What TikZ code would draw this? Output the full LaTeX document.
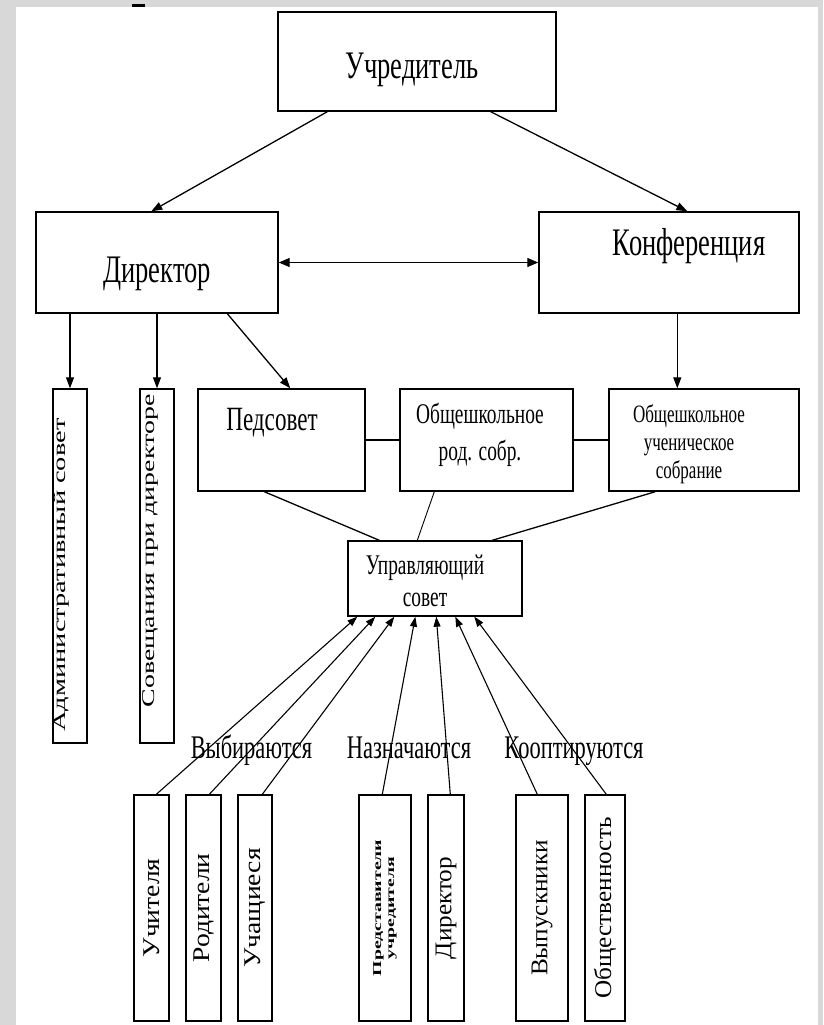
\documentclass[tikz,border=0pt]{standalone}
\usepackage{fontspec}
\usepackage{graphicx}
\setmainfont{Liberation Serif}
\newfontfamily\fc[FakeStretch=0.68]{Liberation Serif}
\newcommand\setfs[2]{\fontsize{#1}{#2}\selectfont}
\usetikzlibrary{arrows.meta}
\definecolor{bgc}{RGB}{216,216,216}
\begin{document}
\begin{tikzpicture}[x=1pt,y=-1pt,
  box/.style={draw, line width=1.4pt, inner sep=0pt, fill=white},
  ln/.style={line width=1.3pt},
  arr/.style={ln, -{Triangle[length=11pt,width=8pt]}},
  arrs/.style={line width=1.1pt, -{Triangle[length=10pt,width=7pt]}},
  big/.style={font={\fc\setfs{39}{44}}},
  grp/.style={font={\fc\setfs{33}{38}}, anchor=base},
]
\useasboundingbox (0,0) rectangle (823,1025);
\fill[bgc] (0,0) rectangle (823,1025);
\fill[white] (16,7) rectangle (818,1025);
\fill[black] (132,4) rectangle (145,7);

% boxes
\node[box, minimum width=278pt, minimum height=99pt] (uch) at (417,61.5) {};
\node[box, minimum width=242pt, minimum height=101pt] (dir) at (157,262.5) {};
\node[box, minimum width=260pt, minimum height=101pt] (konf) at (669,262.5) {};
\node[box, minimum width=34pt, minimum height=354pt] (adm) at (70,566) {};
\node[box, minimum width=34pt, minimum height=354pt] (sov) at (157,566) {};
\node[box, minimum width=167pt, minimum height=102pt] (ped) at (281.5,440) {};
\node[box, minimum width=173pt, minimum height=102pt] (rod) at (486.5,440) {};
\node[box, minimum width=190pt, minimum height=102pt] (uchsob) at (704,440) {};
\node[box, minimum width=174pt, minimum height=75pt] (upr) at (435,578.5) {};

\node[box, minimum width=35pt, minimum height=226pt] (b1) at (151.5,908)
  {\rotatebox{90}{\setfs{24}{26}\scalebox{1.15}[1]{Учителя}}};
\node[box, minimum width=35pt, minimum height=226pt] (b2) at (203.5,908)
  {\rotatebox{90}{\setfs{24}{26}\scalebox{1.15}[1]{Родители}}};
\node[box, minimum width=34pt, minimum height=226pt] (b3) at (255,908)
  {\rotatebox{90}{\setfs{24}{26}\scalebox{1.15}[1]{Учащиеся}}};
\node[box, minimum width=52pt, minimum height=226pt] (b4) at (385,908)
  {\rotatebox{90}{\scalebox{1.65}[1]{\setfs{12}{13}\bfseries\begin{tabular}{@{}c@{}}Представители\\учредителя\end{tabular}}}};
\node[box, minimum width=36pt, minimum height=226pt] (b5) at (446,908)
  {\rotatebox{90}{\setfs{24}{26}\scalebox{1.05}[1]{Директор}}};
\node[box, minimum width=52pt, minimum height=226pt] (b6) at (542,908)
  {\rotatebox{90}{\setfs{24}{26}\scalebox{1.05}[1]{Выпускники}}};
\node[box, minimum width=40pt, minimum height=226pt] (b7) at (605,908)
  {\rotatebox{90}{\setfs{24}{26}\scalebox{1.05}[1]{Общественность}}};

% texts
\node[big, anchor=base] (uch-t) at (412,78) {Учредитель};
\node[big, anchor=base] (dir-t) at (157,282) {Директор};
\node[big, anchor=base] (konf-t) at (689,255) {Конференция};
\node[font={\fc\setfs{34}{40}}, anchor=base] (ped-t) at (272,430) {Педсовет};
\node[font={\fc\setfs{28.5}{37}}, align=center] (rod-t) at (480,435) {Общешкольное\\род. собр.};
\node[font={\fc\setfs{25}{28}}, align=center] (uchsob-t) at (689,444) {Общешкольное\\ученическое\\собрание};
\node[font={\fc\setfs{28.5}{32}}, align=center] (upr-t) at (425,581) {Управляющий\\совет};
\node (adm-t) at (61,575) {\rotatebox{90}{\setfs{18}{20}\scalebox{1.58}[1]{Административный совет}}};
\node (sov-t) at (150,551) {\rotatebox{90}{\setfs{18}{20}\scalebox{1.55}[1]{Совещания при директоре}}};

% connectors
\draw[arr] ([xshift=50pt]uch.south west) -- ([xshift=116pt]dir.north west);
\draw[arr] ([xshift=-66pt]uch.south east) -- ([xshift=149pt]konf.north west);
\draw[ln, {Triangle[length=11pt,width=9pt]}-{Triangle[length=11pt,width=9pt]}] (dir.east) -- (konf.west);
\draw[arr] (adm.north |- dir.south) -- (adm.north);
\draw[arr] (sov.north |- dir.south) -- (sov.north);
\draw[arr] ([xshift=192pt]dir.south west) -- ([xshift=93pt]ped.north west);
\draw[arr] ([xshift=139pt]konf.south west) -- ([xshift=69pt]uchsob.north west);
\draw[ln] (ped.east) -- (rod.west);
\draw[ln] (rod.east) -- (uchsob.west);
\draw[ln] ([xshift=67pt]ped.south west) -- ([xshift=32pt]upr.north west);
\draw[line width=0.9pt] ([xshift=35pt]rod.south west) -- ([xshift=70pt]upr.north west);
\draw[ln] ([xshift=47pt]uchsob.south west) -- ([xshift=145pt]upr.north west);

\draw[arrs] ([xshift=23pt]b1.north west) -- ([xshift=10pt]upr.south west);
\draw[arrs] ([xshift=24pt]b2.north west) -- ([xshift=28pt]upr.south west);
\draw[arrs] ([xshift=25pt]b3.north west) -- ([xshift=47pt]upr.south west);
\draw[arrs] ([xshift=24pt]b4.north west) -- ([xshift=68pt]upr.south west);
\draw[arrs] ([xshift=23pt]b5.north west) -- ([xshift=89pt]upr.south west);
\draw[arrs] ([xshift=22pt]b6.north west) -- ([xshift=108pt]upr.south west);
\draw[arrs] ([xshift=22pt]b7.north west) -- ([xshift=127pt]upr.south west);

% group labels
\node[grp] (l1) at (251.5,758) {Выбираются};
\node[grp] (l2) at (409,758) {Назначаются};
\node[grp] (l3) at (574,758) {Кооптируются};
\end{tikzpicture}
\end{document}
